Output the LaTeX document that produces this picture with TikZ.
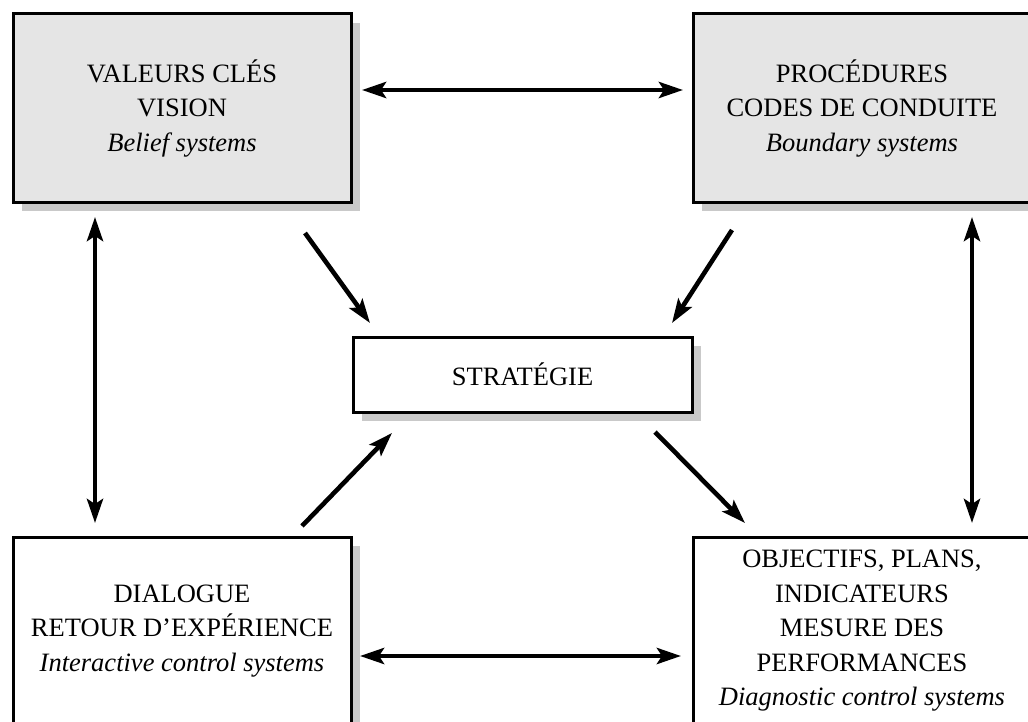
\documentclass[tikz,border=0pt]{standalone}
\usepackage{fontspec}
\setmainfont{Liberation Serif}
\usetikzlibrary{shadows,arrows.meta}
\tikzset{
bloc/.style=
    {rectangle,
    draw=black,
    line width=1.5pt,
    fill=white,
    minimum width=169pt,
    minimum height=94pt,
    align=center,
    outer sep=0pt,
    font=\fontsize{13.25pt}{17.25pt}\selectfont,
    drop shadow={shadow xshift=4.5pt,shadow yshift=-4.5pt,fill=black!21,opacity=1}
    },
bloc gris/.style=
    {bloc,
    fill=black!10
    },
lien/.style=
    {line width=2.3pt,
    >={Stealth[length=12pt,width=8pt,inset=2.5pt]}
    }}

\begin{document}
\begin{tikzpicture}
\useasboundingbox (0,0) rectangle (514pt,-361pt);
\node[bloc gris] (valeurs) at (91pt,-54pt) {VALEURS CLÉS\\VISION\\\textit{Belief systems}};
\node[bloc gris] (procedures) at (431pt,-54pt) {PROCÉDURES\\CODES DE CONDUITE\\\textit{Boundary systems}};
\node[bloc,minimum width=169.5pt,minimum height=37.5pt] (strategie) at (261.25pt,-187.25pt) {STRATÉGIE};
\node[bloc] (dialogue) at (91pt,-315.5pt) {DIALOGUE\\RETOUR D’EXPÉRIENCE\\\textit{Interactive control systems}};
\node[bloc] (objectifs) at (431pt,-315.5pt) {OBJECTIFS, PLANS,\\INDICATEURS\\MESURE DES\\PERFORMANCES\\\textit{Diagnostic control systems}};

\draw[lien,<->,shorten <=5.5pt,shorten >=5pt] ([yshift=9pt]valeurs.east) -- ([yshift=9pt]procedures.west);
\draw[lien,<->,shorten <=4.5pt,shorten >=6pt] ([yshift=-12.5pt]dialogue.east) -- ([yshift=-12.5pt]objectifs.west);
\draw[lien,<->,shorten <=7.5pt,shorten >=7pt] ([xshift=41pt]valeurs.south west) -- ([xshift=41pt]dialogue.north west);
\draw[lien,<->,shorten <=7.5pt,shorten >=7pt] ([xshift=139.5pt]procedures.south west) -- ([xshift=139.5pt]objectifs.north west);

\draw[lien,->] ([shift={(-23pt,-15.5pt)}]valeurs.south east) -- ([shift={(8.5pt,7pt)}]strategie.north west);
\draw[lien,->] ([shift={(19.5pt,-14pt)}]procedures.south west) -- ([shift={(-10pt,7pt)}]strategie.north east);
\draw[lien,->] ([shift={(-24.5pt,5.5pt)}]dialogue.north east) -- ([shift={(19.5pt,-10.5pt)}]strategie.south west);
\draw[lien,->] ([shift={(-18.5pt,-10pt)}]strategie.south east) -- ([shift={(26pt,7pt)}]objectifs.north west);
\end{tikzpicture}
\end{document}
